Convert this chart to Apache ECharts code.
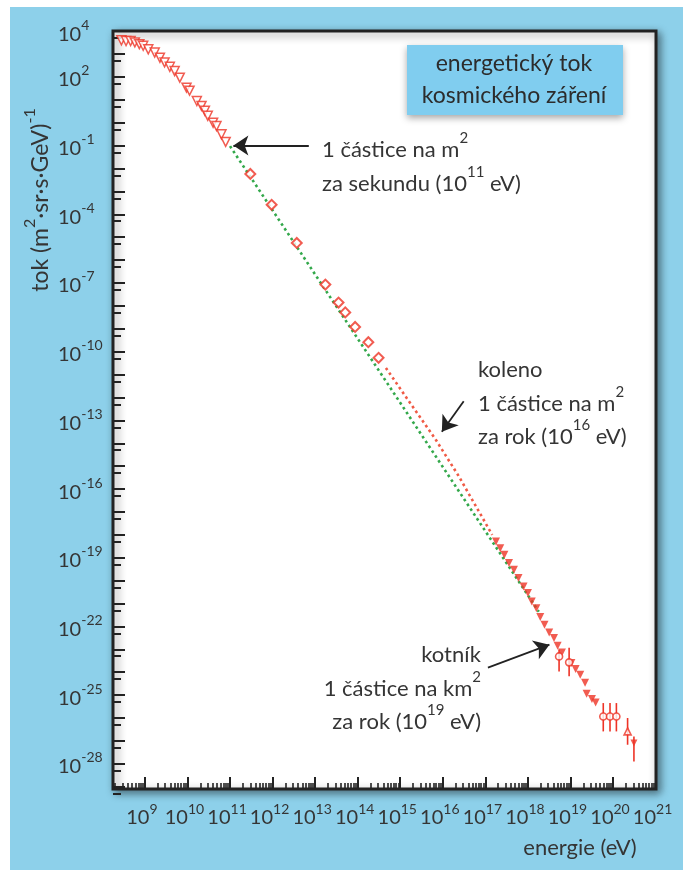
<!DOCTYPE html>
<html>
<head>
<meta charset="utf-8">
<script src="https://cdn.jsdelivr.net/npm/echarts@6/dist/echarts.min.js"></script>
<style>
  html, body { margin: 0; padding: 0; background: #fff; }
  #bg { position: absolute; left: 10px; top: 7px; width: 673px; height: 863px; background: #8dd0ea; }
  #chart { position: absolute; left: 0; top: 0; width: 683px; height: 870px; }
</style>
</head>
<body>
<div id="bg"></div>
<div id="chart"></div>
<script>
// Energy in eV, flux in (m^2 sr s GeV)^-1

// low-energy measurements (open triangles)
const lowE = [2.8e8, 3.6e8, 4.6e8, 5.8e8, 7.4e8, 9.1e8, 1.2e9, 1.7e9, 2.25e9, 2.9e9, 3.85e9, 5.0e9,
              6.6e9, 9.5e9, 1.12e10, 1.66e10, 2.14e10, 2.57e10, 3.0e10, 4.0e10, 4.8e10, 6.3e10, 7.9e10];
const lowF = [4.0e3, 3.7e3, 3.7e3, 3.2e3, 2.7e3, 2.3e3, 1.6e3, 1.15e3, 690, 430, 275, 180,
              93, 34, 25, 8.9, 5.4, 3.3, 2.0, 1.0, 0.72, 0.31, 0.145];

// direct measurements (open diamonds)
const midE = [3.0e11, 9.5e11, 3.7e12, 1.74e13, 3.55e13, 5.1e13, 8.7e13, 1.78e14, 3.1e14];
const midF = [5.8e-3, 2.6e-4, 5.6e-6, 8.5e-8, 1.4e-8, 5.2e-9, 1.2e-9, 2.6e-10, 5.4e-11];

// air-shower measurements (filled triangles)
const highE = [1.78e17, 2.24e17, 2.8e17, 3.6e17, 4.7e17, 6.0e17, 7.9e17, 1.0e18, 1.23e18, 1.58e18,
               1.95e18, 2.45e18, 3.16e18, 4.1e18, 5.0e18, 6.3e18, 1.05e19, 1.32e19, 1.7e19, 2.2e19,
               2.4e19, 3.2e19, 3.9e19];
const highF = [5.1e-19, 2.6e-19, 1.35e-19, 5.9e-20, 3.0e-20, 1.3e-20, 5.6e-21, 2.9e-21, 1.23e-21, 6.3e-22,
               2.6e-22, 1.17e-22, 5.5e-23, 3.1e-23, 1.45e-23, 7.2e-24, 2.5e-24, 1.38e-24, 7.8e-25, 3.5e-25,
               1.15e-25, 6.8e-26, 4.8e-26];

// highest energies with error bars
const errE  = [5.4e18, 9.3e18, 5.9e19, 8.5e19, 1.2e20, 2.2e20, 3.1e20];
const errF  = [4.9e-24, 2.7e-24, 1.17e-26, 1.17e-26, 1.17e-26, 2.6e-27, 8.1e-28];
const errLo = [1.07e-24, 6.6e-25, 2.6e-27, 2.6e-27, 2.6e-27, 6.8e-28, 1.26e-28];
const errHi = [9.5e-24, 1.17e-23, 4.5e-26, 4.5e-26, 4.5e-26, 1.0e-26, 1.55e-27];
const errSymbol = ['circle', 'circle', 'circle', 'circle', 'circle', 'up', 'down'];

// power-law guide (green) and knee curve (red)
const lawE = [1.0e11, 1.8e18];
const lawF = [9.5e-2, 4.4e-22];
const kneeE = [4.6e14, 1.6e15, 6.8e15, 2.4e16, 1.45e17];
const kneeF = [1.95e-11, 6.8e-13, 1.45e-14, 3.5e-16, 1.0e-18];

// annotation arrows: [fromE, fromF, toE, toF]
const arrows = [
  [7.1e12, 0.1, 1.2e11, 0.1],
  [3.1e16, 6.8e-13, 9.5e15, 3.2e-14],
  [1.15e17, 1.6e-24, 3.2e18, 1.6e-23]
];

// axis ticks and labels
const xLabelVals = [1e9, 1e10, 1e11, 1e12, 1e13, 1e14, 1e15, 1e16, 1e17, 1e18, 1e19, 1e20, 1e21];
const xMinorVals = [];
for (let n = 8; n <= 20; n++) for (let k = 2; k <= 9; k++) xMinorVals.push(k * Math.pow(10, n));
const yLabelVals = [1e4, 1e2, 1e-1, 1e-4, 1e-7, 1e-10, 1e-13, 1e-16, 1e-19, 1e-22, 1e-25, 1e-28];
const yTickVals = [];
const yMinorVals = [];
for (let n = 4; n >= -29; n--) { yTickVals.push(Math.pow(10, n)); yMinorVals.push(5 * Math.pow(10, n - 1)); }

const X_MIN = Math.pow(10, 8.25), X_MAX = Math.pow(10, 21.01);
const Y_MIN = Math.pow(10, -29.1), Y_MAX = Math.pow(10, 4.005);

const RED = '#ee3326';
const RED_LINE = '#f05a45';
const GREEN = '#33a84b';
const INK = '#222';
const TXT = '#353535';
const FONT = 'Lato';

const zip = (a, b) => a.map((v, i) => [v, b[i]]);
const powLabel = v => {
  const e = Math.round(Math.log10(v));
  return '{b|10}{s|' + (e < 0 ? '-' : '') + Math.abs(e) + '}';
};
const labelRich = {
  b: { fontFamily: FONT, fontSize: 20, color: TXT, lineHeight: 26, verticalAlign: 'bottom' },
  s: { fontFamily: FONT, fontSize: 14, color: TXT, lineHeight: 16, verticalAlign: 'top' }
};
const textRich = {
  t: { fontFamily: FONT, fontSize: 22, fill: TXT, lineHeight: 30, verticalAlign: 'bottom' },
  s: { fontFamily: FONT, fontSize: 15, fill: TXT, lineHeight: 24, verticalAlign: 'top' }
};
const titleRich = {
  t: { fontFamily: FONT, fontSize: 23, fill: TXT, lineHeight: 30, verticalAlign: 'bottom' },
  s: { fontFamily: FONT, fontSize: 16, fill: TXT, lineHeight: 21, verticalAlign: 'top' }
};
const note = (txt, x, y, align) => ({
  type: 'text', x: x, y: y, silent: true, z: 50,
  style: { text: txt, rich: textRich, fontFamily: FONT, fontSize: 22, fill: TXT,
           align: align, textAlign: align, verticalAlign: 'middle', textVerticalAlign: 'middle' }
});

const chart = echarts.init(document.getElementById('chart'), null, { renderer: 'canvas' });

const baseX = { type: 'log', min: X_MIN, max: X_MAX, splitLine: { show: false }, axisLine: { show: false } };
const baseY = { type: 'log', min: Y_MIN, max: Y_MAX, splitLine: { show: false }, axisLine: { show: false } };

chart.setOption({
  animation: false,
  backgroundColor: 'transparent',
  grid: {
    show: true, left: 113, top: 31, right: 27, bottom: 81,
    backgroundColor: '#fff', borderColor: INK, borderWidth: 3,
    shadowColor: 'rgba(0,0,0,0.45)', shadowBlur: 8, shadowOffsetX: 3, shadowOffsetY: 3
  },
  xAxis: [
    Object.assign({}, baseX, {
      position: 'bottom',
      axisTick: { inside: true, length: 12, customValues: xLabelVals, lineStyle: { color: INK, width: 2 } },
      axisLabel: { customValues: xLabelVals, formatter: powLabel, rich: labelRich, margin: 13, padding: [0, 6, 0, 0] }
    }),
    Object.assign({}, baseX, {
      position: 'bottom',
      axisTick: { inside: true, length: 6, customValues: xMinorVals, lineStyle: { color: INK, width: 1.6 } },
      axisLabel: { show: false }
    })
  ],
  yAxis: [
    Object.assign({}, baseY, {
      position: 'left',
      axisTick: { inside: true, length: 12, customValues: yTickVals, lineStyle: { color: INK, width: 2 } },
      axisLabel: { customValues: yLabelVals, formatter: powLabel, rich: labelRich, margin: 55, align: 'left' }
    }),
    Object.assign({}, baseY, {
      position: 'left', offset: 0,
      axisTick: { inside: true, length: 8, customValues: yMinorVals, lineStyle: { color: INK, width: 2 } },
      axisLabel: { show: false }
    })
  ],
  series: [
    {
      name: 'power law', type: 'line', data: zip(lawE, lawF), symbol: 'none', z: 2,
      lineStyle: { color: GREEN, width: 2.6, type: [2.6, 3.2] },
      markLine: {
        silent: true, symbol: ['none', 'arrow'], symbolSize: 15, label: { show: false },
        lineStyle: { color: INK, width: 1.8, type: 'solid' },
        itemStyle: { color: INK },
        emphasis: { disabled: true },
        data: arrows.map(a => [{ coord: [a[0], a[1]] }, { coord: [a[2], a[3]] }])
      }
    },
    {
      name: 'knee', type: 'line', data: zip(kneeE, kneeF), symbol: 'none', z: 2,
      lineStyle: { color: RED_LINE, width: 2.6, type: [2.6, 3.2] }
    },
    {
      name: 'low', type: 'scatter', data: zip(lowE, lowF), symbol: 'triangle', symbolRotate: 180,
      symbolSize: 9, z: 4, itemStyle: { color: '#fff', borderColor: RED, borderWidth: 1.5 }
    },
    {
      name: 'direct', type: 'scatter', data: zip(midE, midF), symbol: 'rect', symbolRotate: 45,
      symbolSize: 7, z: 4, itemStyle: { color: '#fff', borderColor: RED, borderWidth: 2 }
    },
    {
      name: 'showers', type: 'scatter', data: zip(highE, highF), symbol: 'triangle', symbolRotate: 180,
      symbolSize: 8, z: 4, itemStyle: { color: RED }
    },
    {
      name: 'error bars', type: 'custom', z: 3,
      data: errE.map((e, i) => [e, errLo[i], errHi[i]]),
      renderItem: (params, api) => {
        const a = api.coord([api.value(0), api.value(1)]);
        const b = api.coord([api.value(0), api.value(2)]);
        return { type: 'line', shape: { x1: a[0], y1: a[1], x2: b[0], y2: b[1] },
                 style: { stroke: RED, lineWidth: 1.6 } };
      }
    },
    {
      name: 'highest', type: 'scatter', z: 4,
      data: errE.map((e, i) => {
        const s = errSymbol[i];
        if (s === 'circle') return { value: [e, errF[i]], symbol: 'circle', itemStyle: { color: '#fff', borderColor: RED, borderWidth: 1.6 } };
        if (s === 'up') return { value: [e, errF[i]], symbol: 'triangle', itemStyle: { color: '#fff', borderColor: RED, borderWidth: 1.6 } };
        return { value: [e, errF[i]], symbol: 'triangle', symbolRotate: 180, itemStyle: { color: RED } };
      }),
      symbolSize: 7
    }
  ],
  graphic: [
    {
      type: 'rect', shape: { x: 407, y: 45, width: 216, height: 70 }, z: 40, silent: true,
      style: { fill: '#80cdef', shadowColor: 'rgba(0,0,0,0.35)', shadowBlur: 7, shadowOffsetY: 3 }
    },
    { type: 'text', x: 514, y: 64, z: 50, silent: true,
      style: { text: 'energetický tok', fontFamily: FONT, fontSize: 23, fill: '#2c2c2c',
               align: 'center', textAlign: 'center', verticalAlign: 'middle', textVerticalAlign: 'middle' } },
    { type: 'text', x: 514, y: 96, z: 50, silent: true,
      style: { text: 'kosmického záření', fontFamily: FONT, fontSize: 23, fill: '#2c2c2c',
               align: 'center', textAlign: 'center', verticalAlign: 'middle', textVerticalAlign: 'middle' } },

    note('{t|1 částice na m}{s|2}', 322, 146, 'left'),
    note('{t|za sekundu (10}{s|11}{t| eV)}', 322, 180, 'left'),

    note('{t|koleno}', 478, 366, 'left'),
    note('{t|1 částice na m}{s|2}', 478, 400, 'left'),
    note('{t|za rok (10}{s|16}{t| eV)}', 478, 433, 'left'),

    note('{t|kotník}', 481, 651, 'right'),
    note('{t|1 částice na km}{s|2}', 481, 685, 'right'),
    note('{t|za rok (10}{s|19}{t| eV)}', 481, 718, 'right'),

    { type: 'text', x: 37, y: 200, rotation: Math.PI / 2, z: 50, silent: true,
      style: { text: '{t|tok (m}{s|2}{t|·sr·s·GeV)}{s|-1}', rich: titleRich, fontFamily: FONT, fontSize: 23, fill: TXT,
               align: 'center', textAlign: 'center', verticalAlign: 'middle', textVerticalAlign: 'middle' } },
    { type: 'text', x: 580, y: 848, z: 50, silent: true,
      style: { text: 'energie (eV)', fontFamily: FONT, fontSize: 22, fill: TXT,
               align: 'center', textAlign: 'center', verticalAlign: 'middle', textVerticalAlign: 'middle' } }
  ]
});
</script>
</body>
</html>
